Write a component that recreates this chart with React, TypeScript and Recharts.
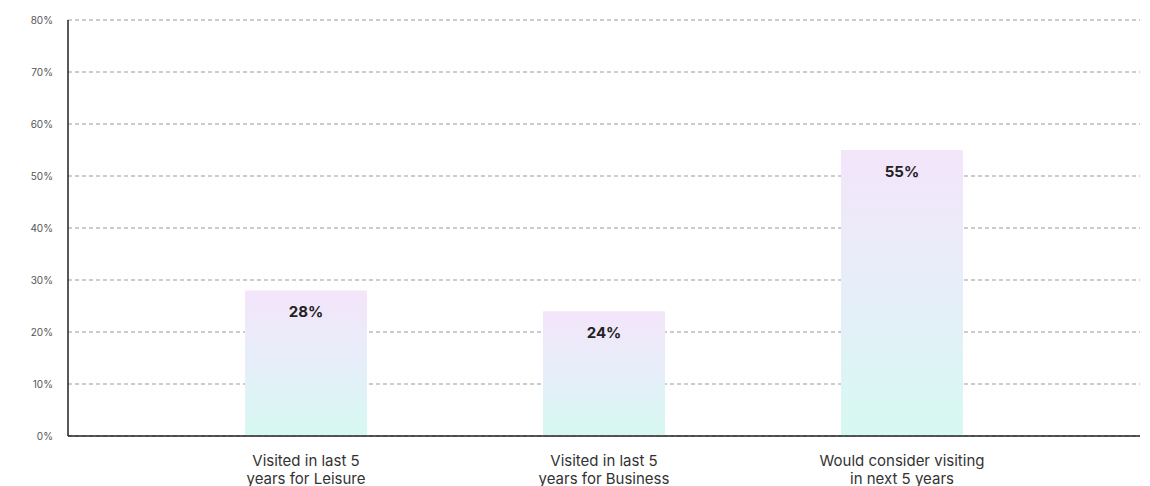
import React from 'react';
import { BarChart, Bar, XAxis, YAxis, CartesianGrid, LabelList } from 'recharts';

const categories = [
    'Visited in last 5\nyears for Leisure',
    'Visited in last 5\nyears for Business',
    'Would consider visiting\nin next 5 years',
];
const shares = [28, 24, 55];
const yTicks = [0, 10, 20, 30, 40, 50, 60, 70, 80];

const data = categories.map((name, i) => ({ name, value: shares[i] }));

const FONT = 'Inter, "Noto Sans", sans-serif';

// two-line category label under each bar
const CategoryTick = (props: any) => {
    const { x, y, payload } = props;
    const lines = String(payload.value).split('\n');
    return (
        <text x={x} y={y} textAnchor="middle" fill="#333" fontSize={15} fontFamily={FONT}>
            {lines.map((l, i) => (
                <tspan key={i} x={x} dy={i === 0 ? 21.5 : 18}>{l}</tspan>
            ))}
        </text>
    );
};

export default function App() {
    return (
        <div style={{ position: 'absolute', left: 0, top: 0, background: '#fff' }}>
            <BarChart
                width={1150}
                height={486}
                data={data}
                margin={{ top: 20, right: 10, left: 0, bottom: 0 }}
            >
                <defs>
                    <linearGradient id="barFade" x1="0" y1="0" x2="0" y2="1">
                        <stop offset="0%" stopColor="#f4e5fa" />
                        <stop offset="50%" stopColor="#e6eef9" />
                        <stop offset="100%" stopColor="#d6f9f2" />
                    </linearGradient>
                </defs>
                <XAxis
                    dataKey="name"
                    padding={{ left: 89, right: 89 }}
                    height={50}
                    tickLine={false}
                    axisLine={{ stroke: '#222', strokeWidth: 1.5 }}
                    tick={<CategoryTick />}
                    interval={0}
                />
                <YAxis
                    width={68}
                    domain={[0, 80]}
                    ticks={yTicks}
                    tickFormatter={(v: number) => `${v}%`}
                    tickLine={false}
                    tickMargin={9}
                    axisLine={{ stroke: '#222', strokeWidth: 1.5 }}
                    tick={{ fill: '#555', fontSize: 10, fontFamily: FONT }}
                />
                <Bar dataKey="value" barSize={122} fill="url(#barFade)" isAnimationActive={false}>
                    <LabelList
                        dataKey="value"
                        position="insideTop"
                        offset={16}
                        formatter={(v: any) => `${v}%`}
                        style={{ fill: '#222', fontSize: 15, fontWeight: 700, fontFamily: FONT }}
                    />
                </Bar>
                <CartesianGrid vertical={false} stroke="#999" strokeDasharray="4 3" />
            </BarChart>
        </div>
    );
}
